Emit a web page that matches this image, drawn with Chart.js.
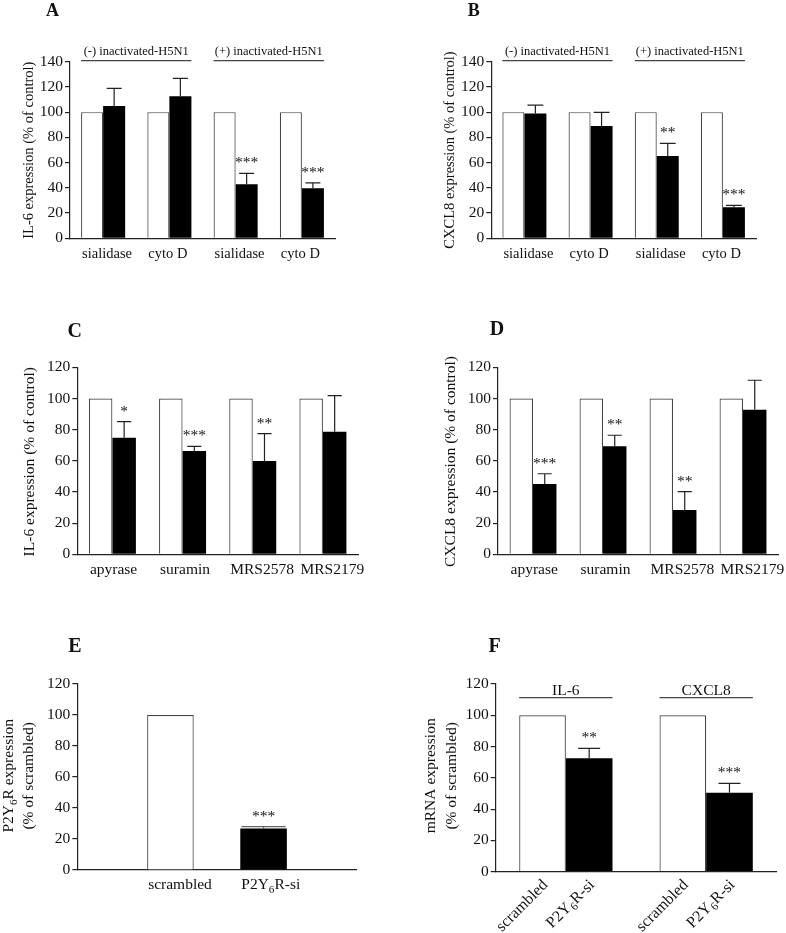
<!DOCTYPE html>
<html><head><meta charset="utf-8">
<script src="https://cdn.jsdelivr.net/npm/chart.js@4.4.1/dist/chart.umd.min.js"></script>
<style>
html,body{margin:0;padding:0;background:#fff;}
#wrap{position:relative;width:786px;height:933px;overflow:hidden;background:#fff;}
canvas{position:absolute;left:0;top:0;}
</style></head><body><div id="wrap">
<canvas id="cA" width="786" height="933"></canvas>
<canvas id="cB" width="786" height="933"></canvas>
<canvas id="cC" width="786" height="933"></canvas>
<canvas id="cD" width="786" height="933"></canvas>
<canvas id="cE" width="786" height="933"></canvas>
<canvas id="cF" width="786" height="933"></canvas>
</div>
<script>
// ---------------- data ----------------
const catsAB = ['sialidase', 'cyto D', 'sialidase', 'cyto D'];
const groupsAB = ['(-) inactivated-H5N1', '(+) inactivated-H5N1'];
const controlA = [100, 100, 100, 100];
const il6A = [104.8, 112.7, 42.8, 39.6];
const il6ASem = [14.0, 14.1, 8.7, 4.4];
const il6AStars = ['', '', '***', '***'];

const controlB = [100, 100, 100, 100];
const cxcl8B = [99.0, 89.0, 65.2, 24.6];
const cxcl8BSem = [6.6, 10.8, 10.1, 1.5];
const cxcl8BStars = ['', '', '**', '***'];

const catsCD = ['apyrase', 'suramin', 'MRS2578', 'MRS2179'];
const controlC = [100, 100, 100, 100];
const il6C = [74.8, 66.3, 59.9, 78.7];
const il6CSem = [10.3, 3.0, 17.5, 23.1];
const il6CStars = ['*', '***', '**', ''];

const controlD = [100, 100, 100, 100];
const cxcl8D = [45.1, 69.3, 28.4, 92.8];
const cxcl8DSem = [6.6, 7.1, 11.8, 18.9];
const cxcl8DStars = ['***', '**', '**', ''];

const catsE = ['scrambled', 'P2Y_6R-si'];
const p2y6E = [100, 26.7];
const p2y6ESem = [0, 1.3];
const p2y6EStars = ['', '***'];
const fillE = ['#ffffff', '#000000'];

const genesF = ['IL-6', 'CXCL8'];
const barsF = ['scrambled', 'P2Y_6R-si'];
const scrambledF = [100, 100];
const siF = [72.5, 50.5];
const siFSem = [6.4, 6.0];
const siFStars = ['**', '***'];

const yMaxAB = 140, yMaxCF = 120, yStep = 20;

// ---------------- helpers ----------------
const W = 786, H = 933;
const FONT = '"Liberation Serif", "Times New Roman", serif';
const INK = '#111';
const AX = '#222';

function segs(s) {
  const out = []; let buf = '';
  for (let i = 0; i < s.length; i++) {
    if (s[i] === '_') { if (buf) out.push({t: buf, sub: false}); buf = ''; out.push({t: s[i + 1], sub: true}); i++; }
    else buf += s[i];
  }
  if (buf) out.push({t: buf, sub: false});
  return out;
}
function drawRich(ctx, s, x, y, size, align, bold) {
  const sg = segs(s);
  const f = sz => (bold ? 'bold ' : '') + sz + 'px ' + FONT;
  let total = 0;
  sg.forEach(g => { ctx.font = f(g.sub ? size * 0.72 : size); g.w = ctx.measureText(g.t).width; total += g.w; });
  let cx = align === 'left' ? x : align === 'right' ? x - total : x - total / 2;
  ctx.textAlign = 'left'; ctx.textBaseline = 'alphabetic';
  sg.forEach(g => { ctx.font = f(g.sub ? size * 0.72 : size); ctx.fillText(g.t, cx, y + (g.sub ? size * 0.22 : 0)); cx += g.w; });
}
function pad(arr, fill) { return [fill].concat(arr, [fill]); }

function panel(id, p) {
  const a = p.area;
  const YW = 40, XH = 10;
  const extras = {
    id: 'extras' + id,
    afterDatasetsDraw(chart) {
      const ctx = chart.ctx, ys = chart.scales.y, area = chart.chartArea;
      ctx.save();
      // error bars + significance marks
      chart.data.datasets.forEach((ds, di) => {
        if (!ds.sem) return;
        const meta = chart.getDatasetMeta(di);
        meta.data.forEach((el, j) => {
          const v = ds.data[j]; if (v == null) return;
          const s = ds.sem[j] || 0;
          const top = ys.getPixelForValue(v + s);
          if (s > 0) {
            ctx.strokeStyle = p.errColor; ctx.lineWidth = 1.2;
            const cw = el.width * p.capFrac;
            ctx.beginPath();
            ctx.moveTo(el.x, el.y); ctx.lineTo(el.x, top);
            ctx.moveTo(el.x - cw / 2, top); ctx.lineTo(el.x + cw / 2, top);
            ctx.stroke();
          }
          const st = ds.stars && ds.stars[j];
          if (st) {
            ctx.fillStyle = INK; ctx.font = p.starSize + 'px ' + FONT;
            ctx.textAlign = 'center'; ctx.textBaseline = 'alphabetic';
            ctx.fillText(st, el.x, top - p.starGap);
          }
        });
      });
      ctx.fillStyle = INK;
      // category labels
      const m0 = chart.getDatasetMeta(0);
      if (p.labelMode === 'left') {
        chart.data.labels.forEach((lab, j) => {
          if (!lab) return;
          const el = m0.data[j];
          drawRich(ctx, lab, el.x - el.width / 2 + 1, area.bottom + p.labelDy, p.labelSize, 'left');
        });
      } else if (p.labelMode === 'rotated') {
        chart.data.datasets.forEach((ds, di) => {
          const meta = chart.getDatasetMeta(di);
          meta.data.forEach((el) => {
            ctx.save();
            ctx.translate(el.x + 6, area.bottom + 14);
            ctx.rotate(-Math.PI / 4);
            drawRich(ctx, p.barLabels[di], 0, 0, p.labelSize, 'right');
            ctx.restore();
          });
        });
      }
      // group headers
      if (p.headers) {
        const last = chart.getDatasetMeta(chart.data.datasets.length - 1);
        const ly = ys.getPixelForValue(p.headerValue);
        p.headers.forEach(h => {
          const e1 = m0.data[h.from], e2 = last.data[h.to];
          const x1 = e1.x - e1.width / 2, x2 = e2.x + e2.width / 2;
          ctx.strokeStyle = '#444'; ctx.lineWidth = 1.2;
          ctx.beginPath(); ctx.moveTo(x1, ly); ctx.lineTo(x2, ly); ctx.stroke();
          ctx.fillStyle = INK;
          drawRich(ctx, h.text, (x1 + x2) / 2, ly - p.headerGap, p.headerSize, 'center');
        });
      }
      // y title
      p.yTitle.forEach((t, k) => {
        ctx.save();
        ctx.translate(p.yTitleX[k], p.yTitleY);
        ctx.rotate(-Math.PI / 2);
        drawRich(ctx, t, 0, p.yTitleSize * 0.3, p.yTitleSize, 'center');
        ctx.restore();
      });
      // panel letter
      drawRich(ctx, p.letter, p.letterX, p.letterY, p.letterSize, 'center', true);
      ctx.restore();
    }
  };
  return new Chart(document.getElementById(id), {
    type: 'bar',
    data: {labels: p.labels, datasets: p.datasets},
    options: {
      responsive: false, animation: false, events: [],
      layout: {padding: {left: a.l - YW, top: a.t, right: W - a.r, bottom: H - a.b - XH}},
      plugins: {legend: {display: false}, tooltip: {enabled: false}, title: {display: false}},
      datasets: {bar: {barPercentage: 1, categoryPercentage: p.catPct}},
      scales: {
        x: {
          offset: p.offset, grid: {display: false, drawTicks: false},
          border: {display: true, color: AX, width: 1.2},
          ticks: {display: false},
          afterFit(s) { s.height = XH; }
        },
        y: {
          min: 0, max: p.max,
          ticks: {stepSize: yStep, color: INK, font: {family: FONT, size: 15.5}, padding: 2},
          grid: {display: true, drawOnChartArea: false, drawTicks: true, tickLength: 5, color: AX, lineWidth: 1.2},
          border: {display: true, color: AX, width: 1.2},
          afterFit(s) { s.width = YW; }
        }
      }
    },
    plugins: [extras]
  });
}

const whiteStyle = {backgroundColor: '#ffffff', borderColor: '#444', borderWidth: 1.2};
const blackStyle = {backgroundColor: '#000000', borderWidth: 0};

// ---------------- panels ----------------
panel('cA', {
  area: {l: 70, r: 335, t: 61.7, b: 238.3}, max: yMaxAB, offset: true, catPct: 0.665,
  labels: catsAB,
  datasets: [
    Object.assign({data: controlA}, whiteStyle),
    Object.assign({data: il6A, sem: il6ASem, stars: il6AStars}, blackStyle)
  ],
  errColor: AX, capFrac: 0.68, starSize: 15.5, starGap: 6,
  labelMode: 'left', labelDy: 19.7, labelSize: 14.5,
  headers: [{text: groupsAB[0], from: 0, to: 1}, {text: groupsAB[1], from: 2, to: 3}],
  headerValue: 140.8, headerGap: 6, headerSize: 12.5,
  yTitle: ['IL-6 expression (% of control)'], yTitleX: [28.3], yTitleY: 150.2, yTitleSize: 14.5,
  letter: 'A', letterX: 52.5, letterY: 15.7, letterSize: 18
});

panel('cB', {
  area: {l: 491.3, r: 756, t: 61.7, b: 238.3}, max: yMaxAB, offset: true, catPct: 0.665,
  labels: catsAB,
  datasets: [
    Object.assign({data: controlB}, whiteStyle),
    Object.assign({data: cxcl8B, sem: cxcl8BSem, stars: cxcl8BStars}, blackStyle)
  ],
  errColor: AX, capFrac: 0.72, starSize: 15.5, starGap: 6,
  labelMode: 'left', labelDy: 19.7, labelSize: 14.5,
  headers: [{text: groupsAB[0], from: 0, to: 1}, {text: groupsAB[1], from: 2, to: 3}],
  headerValue: 140.8, headerGap: 6, headerSize: 12.5,
  yTitle: ['CXCL8 expression (% of control)'], yTitleX: [449.7], yTitleY: 150, yTitleSize: 14.5,
  letter: 'B', letterX: 473.8, letterY: 16, letterSize: 18
});

panel('cC', {
  area: {l: 77.3, r: 358, t: 367.3, b: 554.3}, max: yMaxCF, offset: true, catPct: 0.67,
  labels: catsCD,
  datasets: [
    Object.assign({data: controlC}, whiteStyle),
    Object.assign({data: il6C, sem: il6CSem, stars: il6CStars}, blackStyle)
  ],
  errColor: AX, capFrac: 0.6, starSize: 15.5, starGap: 6,
  labelMode: 'left', labelDy: 19.7, labelSize: 15.5,
  yTitle: ['IL-6 expression (% of control)'], yTitleX: [29.2], yTitleY: 461.7, yTitleSize: 15.5,
  letter: 'C', letterX: 74.7, letterY: 336.7, letterSize: 20
});

panel('cD', {
  area: {l: 498, r: 778, t: 367.3, b: 554.3}, max: yMaxCF, offset: true, catPct: 0.67,
  labels: catsCD,
  datasets: [
    Object.assign({data: controlD}, whiteStyle),
    Object.assign({data: cxcl8D, sem: cxcl8DSem, stars: cxcl8DStars}, blackStyle)
  ],
  errColor: AX, capFrac: 0.6, starSize: 15.5, starGap: 6,
  labelMode: 'left', labelDy: 19.7, labelSize: 15.5,
  yTitle: ['CXCL8 expression (% of control)'], yTitleX: [450.5], yTitleY: 461.5, yTitleSize: 15.5,
  letter: 'D', letterX: 497, letterY: 335, letterSize: 20
});

panel('cE', {
  area: {l: 77.3, r: 356.7, t: 684, b: 870}, max: yMaxCF, offset: false, catPct: 0.5,
  labels: pad(catsE, ''),
  datasets: [{
    data: pad(p2y6E, null), sem: pad(p2y6ESem, null), stars: pad(p2y6EStars, ''),
    backgroundColor: pad(fillE, '#000000'), borderColor: '#444',
    borderWidth: pad(fillE.map(c => c === '#ffffff' ? 1.2 : 0), 0)
  }],
  errColor: '#666', capFrac: 0.95, starSize: 15.5, starGap: 6,
  labelMode: 'left', labelDy: 19.3, labelSize: 15.5,
  yTitle: ['P2Y_6R expression', '(% of scrambled)'], yTitleX: [8.5, 28.5], yTitleY: 775.8, yTitleSize: 15.5,
  letter: 'E', letterX: 75, letterY: 652.3, letterSize: 20
});

panel('cF', {
  area: {l: 495.7, r: 776.3, t: 684, b: 871.7}, max: yMaxCF, offset: true, catPct: 0.665,
  labels: genesF,
  datasets: [
    Object.assign({data: scrambledF}, whiteStyle),
    Object.assign({data: siF, sem: siFSem, stars: siFStars}, blackStyle)
  ],
  errColor: AX, capFrac: 0.47, starSize: 15.5, starGap: 6,
  labelMode: 'rotated', barLabels: barsF, labelSize: 16,
  headers: [{text: genesF[0], from: 0, to: 0}, {text: genesF[1], from: 1, to: 1}],
  headerValue: 111.3, headerGap: 3, headerSize: 15.5,
  yTitle: ['mRNA expression', '(% of scrambled)'], yTitleX: [430.5, 451.3], yTitleY: 775.8, yTitleSize: 15.5,
  letter: 'F', letterX: 494.7, letterY: 652, letterSize: 20
});
</script>
</body></html>
